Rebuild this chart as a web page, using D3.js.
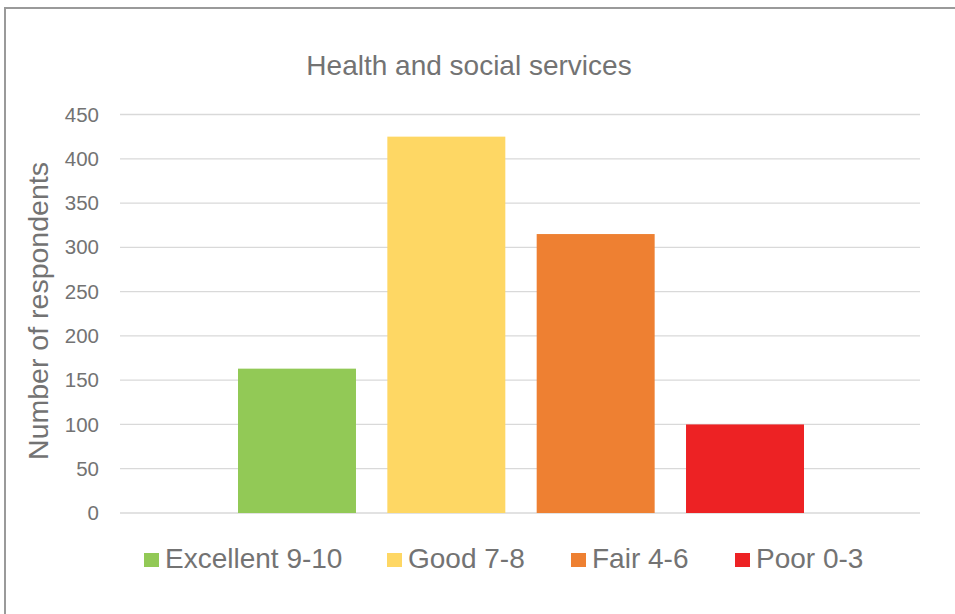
<!DOCTYPE html>
<html>
<head>
<meta charset="utf-8">
<script src="https://cdn.jsdelivr.net/npm/d3@7"></script>
<style>
  body { margin: 0; background: #fff; }
  text { font-family: "Liberation Sans", Arial, sans-serif; }
</style>
</head>
<body>
<svg id="chart" width="955" height="614"></svg>
<script>
// chart data
var categories = ["Excellent 9-10", "Good 7-8", "Fair 4-6", "Poor 0-3"];
var values = [163, 425, 315, 100];
var colors = ["#92c956", "#fed764", "#ee8032", "#ed2224"];
var yTicks = [0, 50, 100, 150, 200, 250, 300, 350, 400, 450];

var textColor = "#737373";
var svg = d3.select("#chart");

// outer frame (only top and left edges visible in the picture)
svg.append("rect")
  .attr("x", 5).attr("y", 8)
  .attr("width", 960).attr("height", 620)
  .attr("fill", "none")
  .attr("stroke", "#9a9a9a")
  .attr("stroke-width", 2);

var plot = { left: 120, right: 920, top: 114.5, bottom: 513 };

var y = d3.scaleLinear().domain([0, 450]).range([plot.bottom, plot.top]);

// one category, four series side by side
var x = d3.scaleBand()
  .domain(categories)
  .range([238, 804])
  .paddingInner(0.21)
  .paddingOuter(0);

// gridlines
svg.append("g").selectAll("line")
  .data(yTicks)
  .join("line")
  .attr("x1", plot.left).attr("x2", plot.right)
  .attr("y1", function(d) { return y(d); })
  .attr("y2", function(d) { return y(d); })
  .attr("stroke", "#d9d9d9")
  .attr("stroke-width", 1.3);

// y axis labels
var yAxis = d3.axisLeft(y).tickValues(yTicks).tickSize(0).tickPadding(0);
var gy = svg.append("g").attr("transform", "translate(99,0)").call(yAxis);
gy.select(".domain").remove();
gy.selectAll("text")
  .attr("fill", textColor)
  .style("font-size", "20.5px")
  .style("font-family", "Liberation Sans, Arial, sans-serif");

// bars
svg.append("g").selectAll("rect")
  .data(categories)
  .join("rect")
  .attr("x", function(d) { return x(d); })
  .attr("width", x.bandwidth())
  .attr("y", function(d, i) { return y(values[i]); })
  .attr("height", function(d, i) { return plot.bottom - y(values[i]); })
  .attr("fill", function(d, i) { return colors[i]; });

// title
svg.append("text")
  .attr("x", 469).attr("y", 75)
  .attr("text-anchor", "middle")
  .attr("fill", textColor)
  .style("font-size", "28px")
  .text("Health and social services");

// y axis title
svg.append("text")
  .attr("transform", "translate(48,311) rotate(-90)")
  .attr("text-anchor", "middle")
  .attr("fill", textColor)
  .style("font-size", "28.5px")
  .text("Number of respondents");

// legend
var legendX = [144, 387, 571, 735];
var legend = svg.append("g").selectAll("g")
  .data(categories)
  .join("g")
  .attr("transform", function(d, i) { return "translate(" + legendX[i] + ",553)"; });
legend.append("rect")
  .attr("width", 15).attr("height", 14)
  .attr("fill", function(d, i) { return colors[i]; });
legend.append("text")
  .attr("x", 21).attr("y", 14.5)
  .attr("fill", textColor)
  .style("font-size", "28px")
  .text(function(d) { return d; });
</script>
</body>
</html>
